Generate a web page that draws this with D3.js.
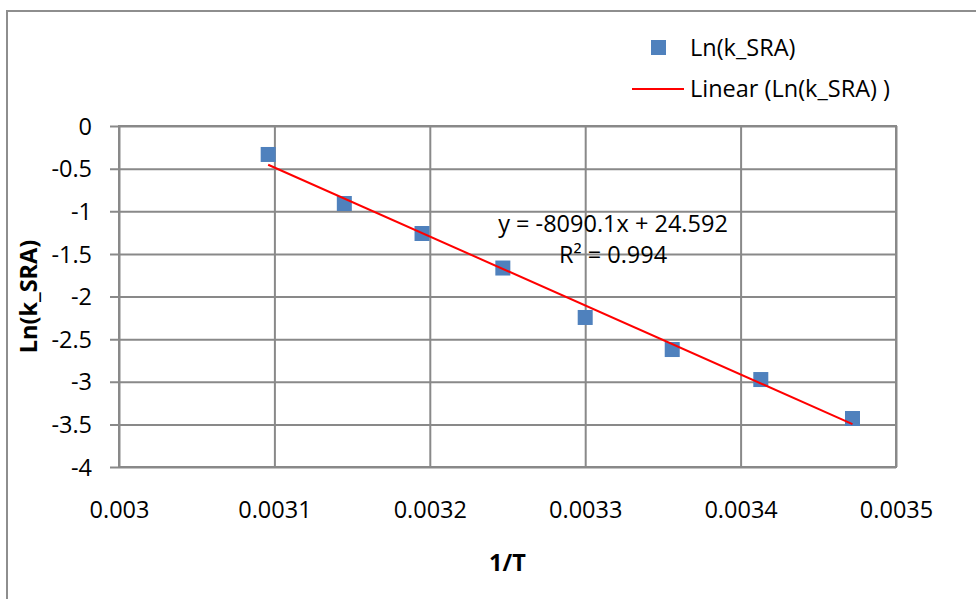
<!DOCTYPE html>
<html>
<head>
<meta charset="utf-8">
<script src="https://cdn.jsdelivr.net/npm/d3@7"></script>
<style>
  html, body { margin: 0; padding: 0; background: #fff; }
  svg { display: block; font-family: "Open Sans", "Liberation Sans", sans-serif; }
</style>
</head>
<body>
<svg id="chart" width="976" height="599"></svg>
<script>
// Arrhenius data: 1/T against Ln(k_SRA)
const invT = [0.003096, 0.003145, 0.003195, 0.003247, 0.003300, 0.003356, 0.003413, 0.003472];
const lnK  = [-0.334, -0.909, -1.261, -1.666, -2.246, -2.622, -2.974, -3.431];

// Linear trendline as reported by the fit
const slope = -8090.1;
const intercept = 24.592;
const rSquared = 0.994;

const xTicks = [0.003, 0.0031, 0.0032, 0.0033, 0.0034, 0.0035];
const yTicks = [0, -0.5, -1, -1.5, -2, -2.5, -3, -3.5, -4];

const seriesName = "Ln(k_SRA)";
const trendName = "Linear (Ln(k_SRA) )";
const xTitle = "1/T";
const yTitle = "Ln(k_SRA)";

const svg = d3.select("#chart");
const plot = { left: 119, right: 896, top: 126, bottom: 467 };
const gridColor = "#898989";
const markerColor = "#4f81bd";
const fs = 23.5;

// Outer chart frame (runs off the right and bottom edges)
svg.append("rect")
  .attr("x", 7).attr("y", 11)
  .attr("width", 1000).attr("height", 640)
  .attr("fill", "none").attr("stroke", "#8e8e8e").attr("stroke-width", 2);

const x = d3.scaleLinear().domain([0.003, 0.0035]).range([plot.left, plot.right]);
const y = d3.scaleLinear().domain([-4, 0]).range([plot.bottom, plot.top]);

// Horizontal gridlines with left tick marks
const yAxis = svg.append("g")
  .attr("transform", `translate(${plot.left},0)`)
  .call(d3.axisLeft(y).tickValues(yTicks).tickSize(-(plot.right - plot.left)).tickSizeOuter(0)
    .tickFormat(d => String(d)));
yAxis.select(".domain").remove();
yAxis.selectAll(".tick line")
  .attr("x1", -9)
  .attr("stroke", gridColor).attr("stroke-width", 2);
yAxis.selectAll(".tick text")
  .attr("x", -27).attr("dy", "0.35em")
  .attr("fill", "#000").attr("font-size", fs)
  .attr("font-family", "'Open Sans', sans-serif");

// Vertical gridlines
const xAxis = svg.append("g")
  .attr("transform", `translate(0,${plot.bottom})`)
  .call(d3.axisBottom(x).tickValues(xTicks).tickSize(-(plot.bottom - plot.top)).tickSizeOuter(0)
    .tickFormat(d => String(+d.toFixed(4))));
xAxis.select(".domain").remove();
xAxis.selectAll(".tick line").attr("stroke", gridColor).attr("stroke-width", 2);
xAxis.selectAll(".tick text")
  .attr("y", 51).attr("dy", "0")
  .attr("fill", "#000").attr("font-size", fs)
  .attr("font-family", "'Open Sans', sans-serif");

// Plot area border
svg.append("rect")
  .attr("x", plot.left).attr("y", plot.top)
  .attr("width", plot.right - plot.left).attr("height", plot.bottom - plot.top)
  .attr("fill", "none").attr("stroke", gridColor).attr("stroke-width", 2);

// Data markers
const pts = invT.map((v, i) => ({ x: v, y: lnK[i] }));
const ms = 15;
svg.append("g").selectAll("rect").data(pts).join("rect")
  .attr("x", d => x(d.x) - ms / 2).attr("y", d => y(d.y) - ms / 2)
  .attr("width", ms).attr("height", ms)
  .attr("fill", markerColor);

// Trendline across the data range
const xMin = d3.min(invT), xMax = d3.max(invT);
const fit = v => slope * v + intercept;
svg.append("line")
  .attr("x1", x(xMin)).attr("y1", y(fit(xMin)))
  .attr("x2", x(xMax)).attr("y2", y(fit(xMax)))
  .attr("stroke", "#ff0000").attr("stroke-width", 2);

// Trendline equation and R²
const eqText = `y = ${slope}x + ${intercept}`;
svg.append("text").attr("x", 613).attr("y", 232).attr("text-anchor", "middle")
  .attr("font-size", fs).text(eqText);
svg.append("text").attr("x", 613).attr("y", 263).attr("text-anchor", "middle")
  .attr("font-size", fs).text(`R² = ${rSquared}`);

// Axis titles
svg.append("text").attr("x", (plot.left + plot.right) / 2).attr("y", 571)
  .attr("text-anchor", "middle").attr("font-weight", "bold").attr("font-size", fs)
  .text(xTitle);
svg.append("text")
  .attr("transform", `translate(37,${(plot.top + plot.bottom) / 2}) rotate(-90)`)
  .attr("text-anchor", "middle").attr("font-weight", "bold").attr("font-size", fs)
  .text(yTitle);

// Legend
const legend = svg.append("g");
legend.append("rect").attr("x", 651).attr("y", 40).attr("width", ms).attr("height", ms)
  .attr("fill", markerColor);
legend.append("text").attr("x", 690).attr("y", 56).attr("font-size", fs).text(seriesName);
legend.append("line").attr("x1", 632).attr("x2", 684).attr("y1", 89).attr("y2", 89)
  .attr("stroke", "#ff0000").attr("stroke-width", 2);
legend.append("text").attr("x", 690).attr("y", 97).attr("font-size", fs).text(trendName);
</script>
</body>
</html>
